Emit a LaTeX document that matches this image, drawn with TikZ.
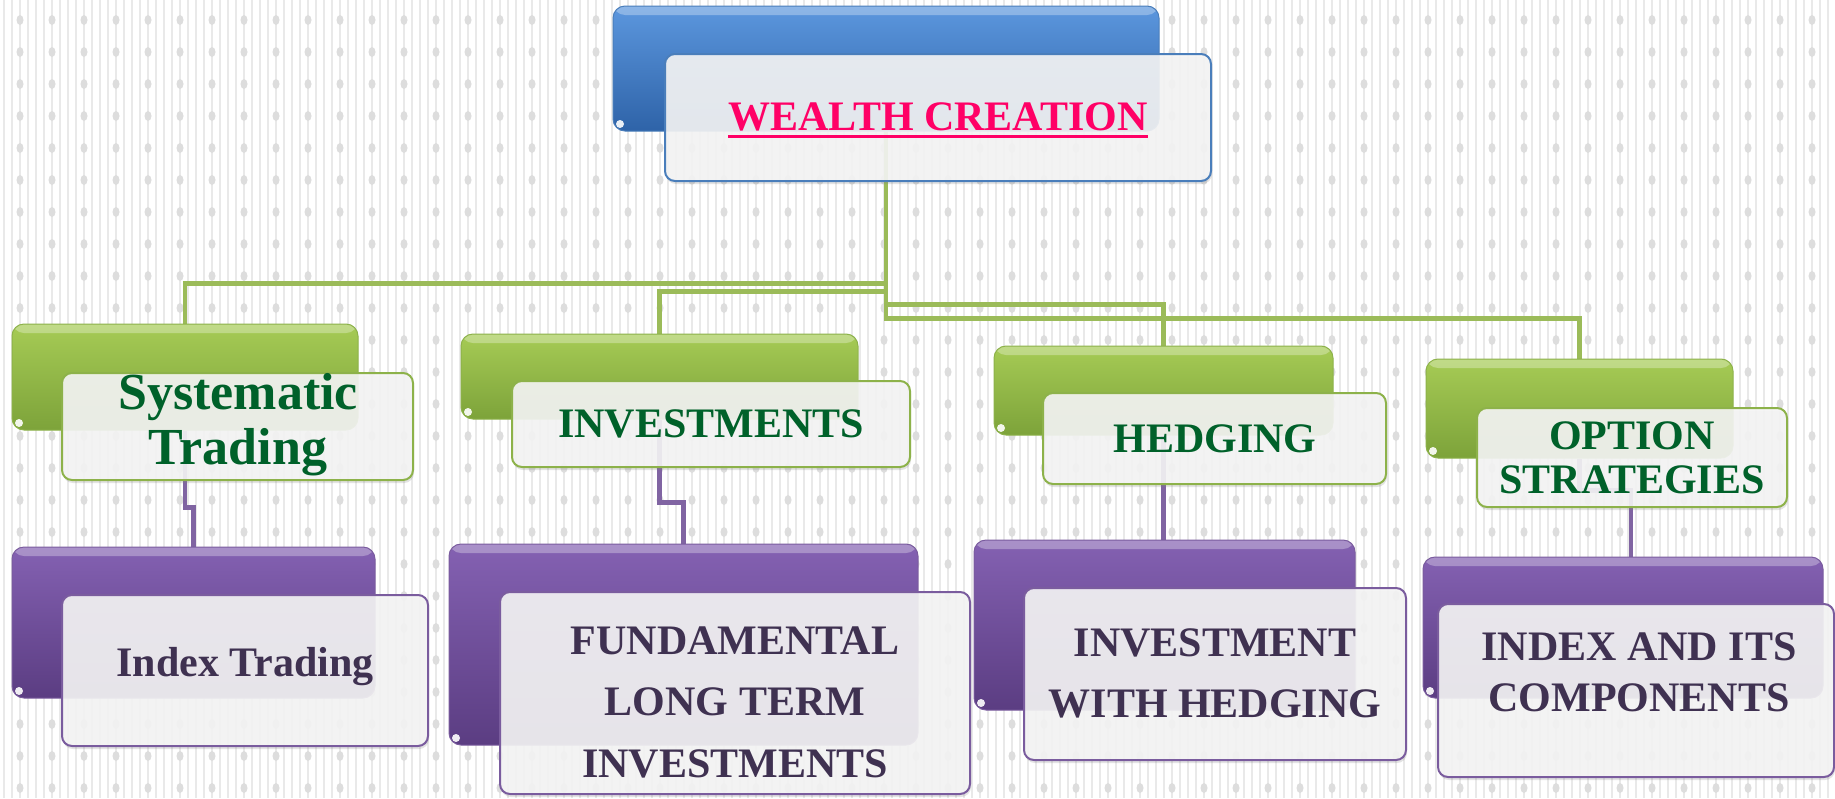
\documentclass[tikz,border=0pt]{standalone}
\usepackage{fontspec}
\setmainfont{Liberation Serif}
\usetikzlibrary{shadows}
\pgfdeclarelayer{bg}
\pgfdeclarelayer{conn}
\pgfsetlayers{bg,conn,main}
\definecolor{bgline}{HTML}{E9E9E9}
\definecolor{bgdot}{HTML}{DDDDDD}
\definecolor{blueA}{HTML}{5C97DE}
\definecolor{blueB}{HTML}{2E63A8}
\definecolor{blueEdge}{HTML}{4A7EBB}
\definecolor{greenA}{HTML}{A6CB55}
\definecolor{greenB}{HTML}{7DA33A}
\definecolor{greenEdge}{HTML}{8DB24A}
\definecolor{purpA}{HTML}{8461B2}
\definecolor{purpB}{HTML}{5B3D82}
\definecolor{purpEdge}{HTML}{7A5C9E}
\definecolor{frontfill}{HTML}{F5F5F5}
\definecolor{conngreen}{HTML}{9BBB59}
\definecolor{connpurple}{HTML}{8064A2}
\definecolor{txtgreen}{HTML}{00612A}
\definecolor{txtpurple}{HTML}{3F3151}
\definecolor{txtpink}{HTML}{FF0066}
\tikzset{
  backbox/.style={rectangle, rounded corners=12pt, inner sep=0pt, line width=1pt,
    path picture={
      \fill[white,opacity=.3] (path picture bounding box.north west) rectangle ([yshift=-9pt]path picture bounding box.north east);
      \fill[white,opacity=.9] ([shift={(7pt,7pt)}]path picture bounding box.south west) circle (4pt);}},
  blueback/.style={backbox, draw=blueEdge, top color=blueA, bottom color=blueB},
  greenback/.style={backbox, draw=greenEdge, top color=greenA, bottom color=greenB},
  purpback/.style={backbox, draw=purpEdge, top color=purpA, bottom color=purpB},
  frontbox/.style={rectangle, rounded corners=10pt, inner sep=0pt, line width=2pt,
    fill=frontfill, fill opacity=.9,
    drop shadow={shadow xshift=1pt, shadow yshift=-3pt, opacity=.22}},
  bluefront/.style={frontbox, draw=blueEdge},
  greenfront/.style={frontbox, draw=greenEdge},
  purpfront/.style={frontbox, draw=purpEdge},
  toptxt/.style={text=txtpink, font=\bfseries\fontsize{42}{44}\selectfont, inner sep=0pt},
  lvltwo/.style={text=txtgreen, font=\bfseries\fontsize{42}{44}\selectfont, align=center, inner sep=0pt},
  lvlthree/.style={text=txtpurple, font=\bfseries\fontsize{42}{61}\selectfont, align=center, inner sep=0pt},
  gconn/.style={conngreen, line width=4.5pt},
  pconn/.style={connpurple, line width=4.5pt},
}
\begin{document}
\begin{tikzpicture}[x=1pt,y=-1pt]
\useasboundingbox (0,0) rectangle (1835,798);
% boxes
\node[blueback, minimum width=546pt, minimum height=125pt] (wb) at (886,68.5) {};
\node[bluefront, minimum width=546pt, minimum height=127pt] (wf) at (938,117.5) {};

\node[greenback, minimum width=346pt, minimum height=106pt] (g1) at (185,377) {};
\node[greenback, minimum width=397pt, minimum height=85pt] (g2) at (659.5,376.5) {};
\node[greenback, minimum width=339pt, minimum height=89pt] (g3) at (1163.5,390.5) {};
\node[greenback, minimum width=307pt, minimum height=99pt] (g4) at (1579.5,408.5) {};

\node[greenfront, minimum width=351pt, minimum height=107pt] (w1) at (237.5,426.5) {};
\node[greenfront, minimum width=398pt, minimum height=86pt] (w2) at (711,424) {};
\node[greenfront, minimum width=343pt, minimum height=91pt] (w3) at (1214.5,438.5) {};
\node[greenfront, minimum width=310pt, minimum height=99pt] (w4) at (1632,457.5) {};

\node[purpback, minimum width=363pt, minimum height=151pt] (p1) at (193.5,622.5) {};
\node[purpback, minimum width=469pt, minimum height=201pt] (p2) at (683.5,644.5) {};
\node[purpback, minimum width=381pt, minimum height=170pt] (p3) at (1164.5,625) {};
\node[purpback, minimum width=400pt, minimum height=141pt] (p4) at (1623,627.5) {};

\node[purpfront, minimum width=366pt, minimum height=151pt] (q1) at (245,670.5) {};
\node[purpfront, minimum width=470pt, minimum height=202pt] (q2) at (735,693) {};
\node[purpfront, minimum width=382pt, minimum height=172pt] (q3) at (1215,674) {};
\node[purpfront, minimum width=396pt, minimum height=173pt] (q4) at (1636,690.5) {};

% texts
\node[toptxt] (t0) at (938,117) {WEALTH CREATION};
\draw[txtpink, line width=3pt] ([yshift=-6pt]t0.base west) -- ([yshift=-6pt]t0.base east);

\node[lvltwo, font=\bfseries\fontsize{52}{55}\selectfont] (s1) at (238,425) {Systematic\\Trading};
\node[lvltwo] (s2) at (711,424) {INVESTMENTS};
\node[lvltwo] (s3) at (1215,439) {HEDGING};
\node[lvltwo] (s4) at (1632,458) {OPTION\\STRATEGIES};

\node[lvlthree] (u1) at (245,667) {Index Trading};
\node[lvlthree, font=\bfseries\fontsize{42}{61.5}\selectfont] (u2) at (735,702) {FUNDAMENTAL\\LONG TERM\\INVESTMENTS};
\node[lvlthree] (u3) at (1215,673) {INVESTMENT\\WITH HEDGING};
\node[lvlthree, font=\bfseries\fontsize{42}{51}\selectfont] (u4) at (1639,672) {INDEX AND ITS\\COMPONENTS};

% connectors
\begin{pgfonlayer}{conn}
\draw[gconn] (wb.south) -- ++(0,152) -| (g1.north);
\draw[gconn] (wb.south) -- ++(0,160) -| (g2.north);
\draw[gconn] (wb.south) -- ++(0,173) -| (g3.north);
\draw[gconn] (wb.south) -- ++(0,187) -| (g4.north);
\draw[pconn] (g1.south) -- ++(0,77) -| (p1.north);
\draw[pconn] (g2.south) -- ++(0,83) -| (p2.north);
\draw[pconn] (g3.south) -- (g3.south |- p3.north);
\draw[pconn] (g4.south) -- ++(0,32) -| ([xshift=8pt]p4.north);
\end{pgfonlayer}

% background
\begin{pgfonlayer}{bg}
\fill[white] (0,0) rectangle (1835,798);
\foreach \x in {4,12,...,1832} \draw[bgline, line width=2pt] (\x,0) -- (\x,798);
\foreach \x in {20,52,...,1830} \foreach \y in {20,52,...,798} \fill[bgdot] (\x,\y) ellipse (3.5pt and 5pt);
\end{pgfonlayer}
\end{tikzpicture}
\end{document}
